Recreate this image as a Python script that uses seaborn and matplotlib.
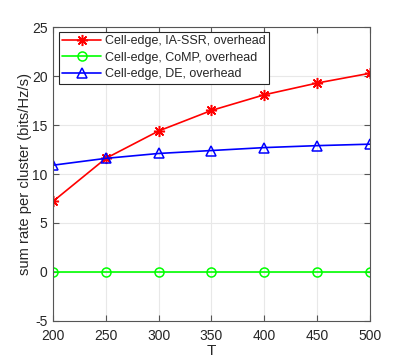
import matplotlib
matplotlib.use("Agg")
import matplotlib.pyplot as plt
import seaborn as sns
import pandas as pd

T = [200, 250, 300, 350, 400, 450, 500]
ia_ssr = [7.2, 11.6, 14.4, 16.5, 18.1, 19.3, 20.3]
comp = [0, 0, 0, 0, 0, 0, 0]
de = [10.9, 11.6, 12.1, 12.4, 12.7, 12.9, 13.05]
labels = ["Cell-edge, IA-SSR, overhead", "Cell-edge, CoMP, overhead", "Cell-edge, DE, overhead"]
yticks = [-5, 0, 5, 10, 15, 20, 25]
xticks = [200, 250, 300, 350, 400, 450, 500]

sns.set_theme(style="white")
plt.rcParams['font.family'] = ['Liberation Sans', 'DejaVu Sans']

fig = plt.figure(figsize=(4.09, 3.61), dpi=100)
ax = fig.add_axes([0.1296, 0.1116, 0.9046 - 0.1296, 0.9244 - 0.1116])

styles = [
    (ia_ssr, "#ff0000", (8, 2, 0), "#ff0000", 8),
    (comp, "#00ff00", "o", "none", 6.5),
    (de, "#0000ff", "^", "none", 7),
]
for (vals, col, mk, fc, ms), lab in zip(styles, labels):
    df = pd.DataFrame({"T": T, "v": vals})
    sns.lineplot(data=df, x="T", y="v", ax=ax, color=col, marker=mk,
                 markersize=ms, markerfacecolor=fc,
                 markeredgecolor=col, markeredgewidth=1.1, linewidth=1.2,
                 label=lab)

ax.set_xlim(200, 500)
ax.set_ylim(-5, 25)
ax.set_xticks(xticks)
ax.set_yticks(yticks)
ax.set_xticklabels([str(t) for t in xticks])
ax.set_yticklabels([str(t) for t in yticks])
ax.grid(True, color="#e8e8e8", linewidth=0.8)
ax.set_axisbelow(True)
for s in ax.spines.values():
    s.set_color("#555555")
    s.set_linewidth(0.8)
ax.tick_params(direction="in", length=4, width=0.8, color="#555555",
               labelsize=10, labelcolor="#262626", top=True, right=True,
               bottom=True, left=True)
ax.tick_params(axis="x", pad=6)
ax.tick_params(axis="y", pad=4)
ax.set_xlabel("T", fontsize=11, color="#262626", labelpad=1)
ax.set_ylabel("sum rate per cluster (bits/Hz/s)", fontsize=10.6, color="#262626")
ax.yaxis.set_label_coords(-0.066, 0.5)

leg = ax.legend(loc="upper left", fontsize=9, frameon=True, fancybox=False,
                edgecolor="#262626", framealpha=1, borderpad=0.3,
                handlelength=3.1, handletextpad=0.3, labelspacing=0.35,
                borderaxespad=0, bbox_to_anchor=(0.018, 0.985))
leg.get_frame().set_linewidth(0.8)

fig.savefig("out.png", dpi=100, facecolor="white")
